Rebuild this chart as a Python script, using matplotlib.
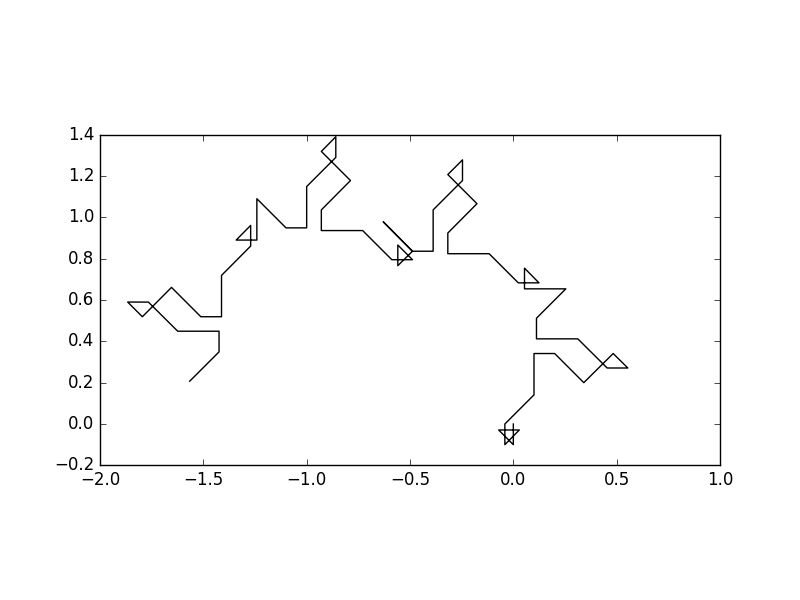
import numpy as np
import matplotlib
matplotlib.use('Agg')
import matplotlib.pyplot as plt

# vertices of the walk (starts at the origin)
x = [0, 0, -0.071, 0.029, -0.041, -0.041, 0.1, 0.1, 0.2, 0.341, 0.483,
     0.554, 0.454, 0.312, 0.112, 0.112, 0.254, 0.054, 0.054, 0.124, 0.024,
     -0.117, -0.317, -0.317, -0.176, -0.317, -0.246, -0.246, -0.388, -0.388, -0.488,
     -0.629, -0.488, -0.559, -0.559, -0.488, -0.588, -0.729, -0.929, -0.929, -0.788,
     -0.929, -0.859, -0.859, -1.0, -1.0, -1.1, -1.241, -1.241, -1.341, -1.271,
     -1.271, -1.412, -1.412, -1.512, -1.654, -1.795, -1.866, -1.766, -1.624, -1.424,
     -1.424, -1.566]
y = [0, -0.1, -0.029, -0.029, -0.1, 0, 0.141, 0.341, 0.341, 0.2, 0.341,
     0.271, 0.271, 0.412, 0.412, 0.512, 0.654, 0.654, 0.754, 0.683, 0.683,
     0.824, 0.824, 0.924, 1.066, 1.207, 1.278, 1.178, 1.036, 0.836, 0.836,
     0.978, 0.836, 0.766, 0.866, 0.795, 0.795, 0.936, 0.936, 1.036, 1.178,
     1.319, 1.390, 1.290, 1.149, 0.949, 0.949, 1.090, 0.890, 0.890, 0.961,
     0.861, 0.719, 0.519, 0.519, 0.661, 0.519, 0.590, 0.590, 0.449, 0.449,
     0.349, 0.207]

plt.style.use('classic')
fig = plt.figure(figsize=(8, 6), dpi=100)
ax = fig.add_subplot(111)
ax.plot(x, y, color='k', lw=1.0)
ax.set_xlim(-2, 1)
ax.set_ylim(-0.2, 1.4)
ax.set_aspect('equal')

#guardamos
fig.savefig('out.png', dpi=100, facecolor='w')
